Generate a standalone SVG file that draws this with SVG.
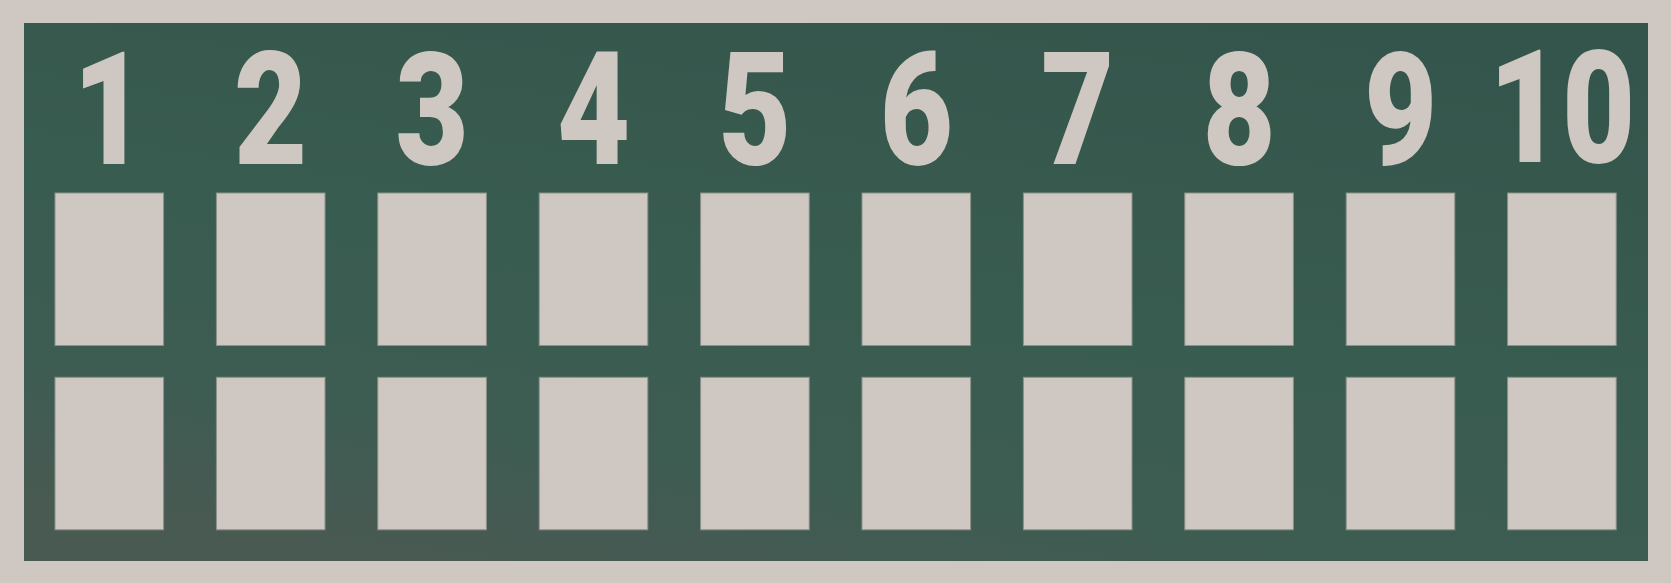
<svg xmlns="http://www.w3.org/2000/svg" width="1671" height="583" viewBox="0 0 1671 583">
  <defs>
    <linearGradient id="bg" x1="0.75" y1="0" x2="0.3" y2="1">
      <stop offset="0" stop-color="#34554b"/>
      <stop offset="0.5" stop-color="#395c50"/>
      <stop offset="0.82" stop-color="#3e5c52"/>
      <stop offset="1" stop-color="#485a52"/>
    </linearGradient>
    <style>
      .box { fill: #cfc7c1; stroke: #8c918a; stroke-width: 1; }
      .num { fill: #cfc7c1; font-family: Roboto, "Liberation Sans", Arial, sans-serif; font-weight: 900; font-size: 158px; text-anchor: middle; }
    </style>
  </defs>
  <rect x="0" y="0" width="1671" height="583" fill="#cfc7c1"/>
  <rect x="24" y="23" width="1624" height="538" fill="url(#bg)"/>

  <g id="labels">
    <g id="label-1"><text class="num" transform="translate(109.3,164) scale(0.8,1)">1</text></g>
    <g id="label-2"><text class="num" transform="translate(270.7,164) scale(0.8,1)">2</text></g>
    <g id="label-3"><text class="num" transform="translate(432.1,164) scale(0.8,1)">3</text></g>
    <g id="label-4"><text class="num" transform="translate(593.5,164) scale(0.8,1)">4</text></g>
    <g id="label-5"><text class="num" transform="translate(754.9,164) scale(0.8,1)">5</text></g>
    <g id="label-6"><text class="num" transform="translate(916.3,164) scale(0.8,1)">6</text></g>
    <g id="label-7"><text class="num" transform="translate(1077.7,164) scale(0.8,1)">7</text></g>
    <g id="label-8"><text class="num" transform="translate(1239.1,164) scale(0.8,1)">8</text></g>
    <g id="label-9"><text class="num" transform="translate(1400.5,164) scale(0.8,1)">9</text></g>
    <g id="label-10"><text class="num" transform="translate(1561.9,162) scale(0.8,1)">10</text></g>
  </g>

  <g id="row-top">
    <rect id="top-1" class="box" x="55" y="193" width="108.6" height="152.5"/>
    <rect id="top-2" class="box" x="216.4" y="193" width="108.6" height="152.5"/>
    <rect id="top-3" class="box" x="377.8" y="193" width="108.6" height="152.5"/>
    <rect id="top-4" class="box" x="539.2" y="193" width="108.6" height="152.5"/>
    <rect id="top-5" class="box" x="700.6" y="193" width="108.6" height="152.5"/>
    <rect id="top-6" class="box" x="862" y="193" width="108.6" height="152.5"/>
    <rect id="top-7" class="box" x="1023.4" y="193" width="108.6" height="152.5"/>
    <rect id="top-8" class="box" x="1184.8" y="193" width="108.6" height="152.5"/>
    <rect id="top-9" class="box" x="1346.2" y="193" width="108.6" height="152.5"/>
    <rect id="top-10" class="box" x="1507.6" y="193" width="108.6" height="152.5"/>
  </g>
  <g id="row-bottom">
    <rect id="bot-1" class="box" x="55" y="377.3" width="108.6" height="152.5"/>
    <rect id="bot-2" class="box" x="216.4" y="377.3" width="108.6" height="152.5"/>
    <rect id="bot-3" class="box" x="377.8" y="377.3" width="108.6" height="152.5"/>
    <rect id="bot-4" class="box" x="539.2" y="377.3" width="108.6" height="152.5"/>
    <rect id="bot-5" class="box" x="700.6" y="377.3" width="108.6" height="152.5"/>
    <rect id="bot-6" class="box" x="862" y="377.3" width="108.6" height="152.5"/>
    <rect id="bot-7" class="box" x="1023.4" y="377.3" width="108.6" height="152.5"/>
    <rect id="bot-8" class="box" x="1184.8" y="377.3" width="108.6" height="152.5"/>
    <rect id="bot-9" class="box" x="1346.2" y="377.3" width="108.6" height="152.5"/>
    <rect id="bot-10" class="box" x="1507.6" y="377.3" width="108.6" height="152.5"/>
  </g>
  <g id="connectors"/>
</svg>
